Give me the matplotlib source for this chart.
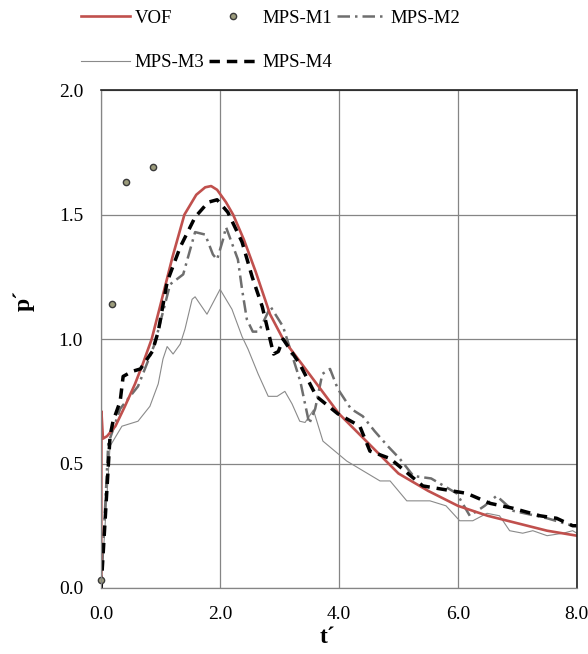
import matplotlib.pyplot as plt
from matplotlib.lines import Line2D

plt.rcParams["font.family"] = ["Liberation Serif", "DejaVu Serif"]

# VOF (red solid)
vof_t = [0.0, 0.005, 0.03, 0.1, 0.24, 0.4, 0.57, 0.7, 0.85, 1.0, 1.2, 1.4, 1.6,
         1.75, 1.85, 1.95, 2.1, 2.22, 2.4, 2.6, 2.84, 3.06, 3.5, 4.0, 4.5, 5.0,
         5.5, 6.0, 6.5, 7.0, 7.5, 8.0]
vof_p = [0.0, 0.71, 0.60, 0.61, 0.65, 0.73, 0.82, 0.90, 1.00, 1.14, 1.33, 1.50,
         1.58, 1.61, 1.615, 1.60, 1.55, 1.50, 1.40, 1.27, 1.10, 1.00, 0.86, 0.70,
         0.58, 0.46, 0.39, 0.33, 0.29, 0.26, 0.23, 0.21]

# MPS-M1 (markers only)
m1_t = [0.0, 0.19, 0.42, 0.87]
m1_p = [0.03, 1.14, 1.63, 1.69]

# MPS-M2 (gray dash-dot)
m2_t = [0.0, 0.12, 0.32, 0.62, 0.9, 1.16, 1.38, 1.58, 1.75, 1.88, 1.95, 2.05,
        2.1, 2.3, 2.37, 2.45, 2.55, 2.65, 2.85, 3.06, 3.35, 3.42, 3.5, 3.6, 3.72,
        3.85, 3.98, 4.2, 4.4, 4.6, 4.82, 5.02, 5.25, 5.55, 5.98, 6.2, 6.45, 6.65,
        6.93, 7.5, 7.93, 8.0]
m2_p = [0.0, 0.58, 0.72, 0.81, 0.98, 1.22, 1.26, 1.43, 1.42, 1.34, 1.32, 1.40,
        1.45, 1.32, 1.20, 1.08, 1.03, 1.03, 1.13, 1.05, 0.83, 0.75, 0.66, 0.72,
        0.86, 0.88, 0.80, 0.72, 0.69, 0.63, 0.57, 0.52, 0.45, 0.44, 0.38, 0.29,
        0.33, 0.37, 0.31, 0.28, 0.25, 0.25]

# MPS-M3 (thin gray solid)
m3_t = [0.0, 0.15, 0.35, 0.62, 0.82, 0.96, 1.04, 1.11, 1.21, 1.33, 1.41, 1.53,
        1.58, 1.78, 2.0, 2.2, 2.37, 2.47, 2.64, 2.81, 2.96, 3.09, 3.21, 3.34,
        3.43, 3.57, 3.73, 4.13, 4.69, 4.86, 5.14, 5.53, 5.8, 6.03, 6.25, 6.49,
        6.7, 6.87, 7.09, 7.26, 7.5, 7.77, 7.93, 8.0]
m3_p = [0.0, 0.57, 0.65, 0.67, 0.73, 0.82, 0.92, 0.97, 0.94, 0.98, 1.04, 1.16,
        1.17, 1.10, 1.20, 1.12, 1.01, 0.96, 0.86, 0.77, 0.77, 0.79, 0.74, 0.67,
        0.665, 0.715, 0.59, 0.51, 0.43, 0.43, 0.35, 0.35, 0.33, 0.27, 0.27, 0.30,
        0.29, 0.23, 0.22, 0.23, 0.21, 0.22, 0.23, 0.22]

# MPS-M4 (black dashed)
m4_t = [0.0, 0.15, 0.2, 0.32, 0.37, 0.52, 0.66, 0.86, 0.96, 1.11, 1.33, 1.58,
        1.8, 1.95, 2.13, 2.37, 2.54, 2.71, 2.82, 2.9, 2.98, 3.06, 3.34, 3.62,
        3.98, 4.35, 4.52, 4.86, 5.41, 6.15, 6.54, 6.93, 7.38, 7.66, 7.93, 8.0]
m4_p = [0.0, 0.61, 0.67, 0.75, 0.85, 0.87, 0.88, 0.95, 1.03, 1.23, 1.37, 1.49,
        1.55, 1.56, 1.51, 1.39, 1.25, 1.13, 1.02, 0.94, 0.95, 1.00, 0.90, 0.77,
        0.70, 0.65, 0.55, 0.52, 0.41, 0.38, 0.34, 0.32, 0.29, 0.28, 0.25, 0.25]

xticks = [0, 2, 4, 6, 8]
yticks = [0.0, 0.5, 1.0, 1.5, 2.0]

fig = plt.figure(figsize=(5.88, 6.54), dpi=100)
ax = fig.add_axes([0.172, 0.101, 0.809, 0.761])

ax.set_xlim(0, 8)
ax.set_ylim(0, 2)
ax.set_xticks(xticks)
ax.set_yticks(yticks)
ax.set_xticklabels([f"{v:.1f}" for v in xticks])
ax.set_yticklabels([f"{v:.1f}" for v in yticks])
ax.tick_params(length=0, labelsize=14, pad=13)
ax.grid(True, color="#858585", linewidth=0.9)
ax.set_axisbelow(True)
for s in ["left", "bottom"]:
    ax.spines[s].set_color("#858585")
    ax.spines[s].set_linewidth(0.9)
for s in ["top", "right"]:
    ax.spines[s].set_color("#202020")
    ax.spines[s].set_linewidth(1.2)

l_m3, = ax.plot(m3_t, m3_p, color="#8a8a8a", linewidth=0.8, label="MPS-M3")
l_m2, = ax.plot(m2_t, m2_p, color="#6e6e6e", linewidth=1.8,
                dashes=(5, 2, 1, 2), label="MPS-M2")
l_vof, = ax.plot(vof_t, vof_p, color="#c0504d", linewidth=1.9, label="VOF")
l_m4, = ax.plot(m4_t, m4_p, color="black", linewidth=2.5, dashes=(3, 2),
                label="MPS-M4")
l_m1, = ax.plot(m1_t, m1_p, linestyle="none", marker="o", markersize=4.5,
                markerfacecolor="#9c9c7c", markeredgecolor="#3a3a3a",
                markeredgewidth=1.0, label="MPS-M1", clip_on=False)

ax.set_xlabel("t´", fontsize=17, fontweight="bold")
ax.set_ylabel("p´", fontsize=17, fontweight="bold")
ax.xaxis.set_label_coords(0.475, -0.078)
ax.yaxis.set_label_coords(-0.14, 0.578)

handles = [l_vof, l_m3, l_m1, l_m4, l_m2]
fig.legend(handles=handles, labels=[h.get_label() for h in handles],
           loc="upper left", bbox_to_anchor=(0.138, 0.985), ncol=3,
           frameon=False, fontsize=13.5, handlelength=2.6, handletextpad=0.25,
           columnspacing=0.25, labelspacing=1.45, borderpad=0, borderaxespad=0)

fig.savefig("out.png", dpi=100)
